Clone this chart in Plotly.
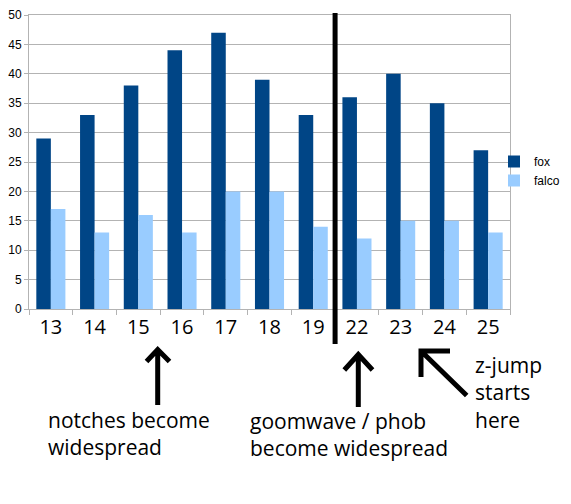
import plotly.graph_objects as go

# ---- data ----
categories = ["13", "14", "15", "16", "17", "18", "19", "22", "23", "24", "25"]
fox = [29, 33, 38, 44, 47, 39, 33, 36, 40, 35, 27]
falco = [17, 13, 16, 13, 20, 20, 14, 12, 15, 15, 13]

notes = ["notches become<br>widespread",
         "goomwave / phob<br>become widespread",
         "z-jump<br>starts<br>here"]

# ---- layout geometry (screen pixels; page body adds an 8px offset) ----
OFF = 8
SW, SH = 571, 504
L, R, T, B = 29, 510, 15, 309
W, H = SW - OFF, SH - OFF


def px(x):
    return (x - L) / (R - L)


def py(y):
    return (B - y) / (B - T)


DARK = "#004586"
LIGHT = "#99ccff"
GRID = "#b3b3b3"

fig = go.Figure()
fig.add_trace(go.Bar(name="fox", x=categories, y=fox, marker=dict(color=DARK, line=dict(width=0))))
fig.add_trace(go.Bar(name="falco", x=categories, y=falco, marker=dict(color=LIGHT, line=dict(width=0))))

shapes = []
# thick vertical divider between 19 and 22
shapes.append(dict(type="line", xref="x", yref="paper", x0=6.5, x1=6.5,
                   y0=py(344), y1=py(13), line=dict(color="black", width=5)))


def arrow_path(pts_main, wings):
    (tx, ty), (hx, hy) = pts_main
    (w1x, w1y), (w2x, w2y) = wings
    return (f"M{px(tx)},{py(ty)} L{px(hx)},{py(hy)} "
            f"M{px(w1x)},{py(w1y)} L{px(hx)},{py(hy)} L{px(w2x)},{py(w2y)}")


arrows = [
    (((157.7, 405), (157.7, 349.5)), ((146.5, 361.5), (169.5, 361.5))),
    (((358.3, 407), (358.3, 354.5)), ((344.3, 370), (372.5, 370))),
    (((466.7, 395.5), (421, 351)), ((421, 377), (450, 351))),
]
for main, wings in arrows:
    shapes.append(dict(type="path", xref="paper", yref="paper",
                       path=arrow_path(main, wings),
                       line=dict(color="black", width=5)))

ann_font = dict(family="Open Sans", size=21, color="black")
note_pos = [(45.5, 404), (248, 405), (473, 349)]
annotations = []
for text, (x, y) in zip(notes, note_pos):
    annotations.append(dict(text=text, xref="paper", yref="paper", x=px(x), y=py(y),
                            xanchor="left", yanchor="top", align="left",
                            showarrow=False, font=ann_font))

fig.update_layout(
    width=W, height=H,
    margin=dict(l=L - OFF, r=SW - R, t=T - OFF, b=SH - B, pad=0, autoexpand=False),
    paper_bgcolor="white", plot_bgcolor="white",
    font=dict(family="Liberation Sans", size=12, color="black"),
    barmode="group", bargap=0.335, bargroupgap=0,
    showlegend=True,
    legend=dict(x=px(494), y=py(171), xanchor="left", yanchor="middle",
                font=dict(family="Liberation Sans", size=12, color="black"),
                bgcolor="rgba(0,0,0,0)", tracegroupgap=0, itemwidth=30),
    shapes=shapes,
    annotations=annotations,
)
fig.update_xaxes(type="category", showgrid=False, showline=True, linecolor=GRID, linewidth=1,
                 mirror=True, ticks="outside", ticklen=5, tickcolor=GRID,
                 tickson="boundaries", automargin=False,
                 tickfont=dict(family="Open Sans", size=20, color="black"),
                 fixedrange=True)
fig.update_yaxes(range=[0, 50], dtick=5, showgrid=True, gridcolor=GRID, gridwidth=1,
                 showline=True, linecolor=GRID, linewidth=1, mirror=True, automargin=False,
                 ticks="outside", ticklen=4, tickcolor=GRID, zeroline=False,
                 tickfont=dict(family="Liberation Sans", size=12, color="black"))

fig.write_html("out.html")
